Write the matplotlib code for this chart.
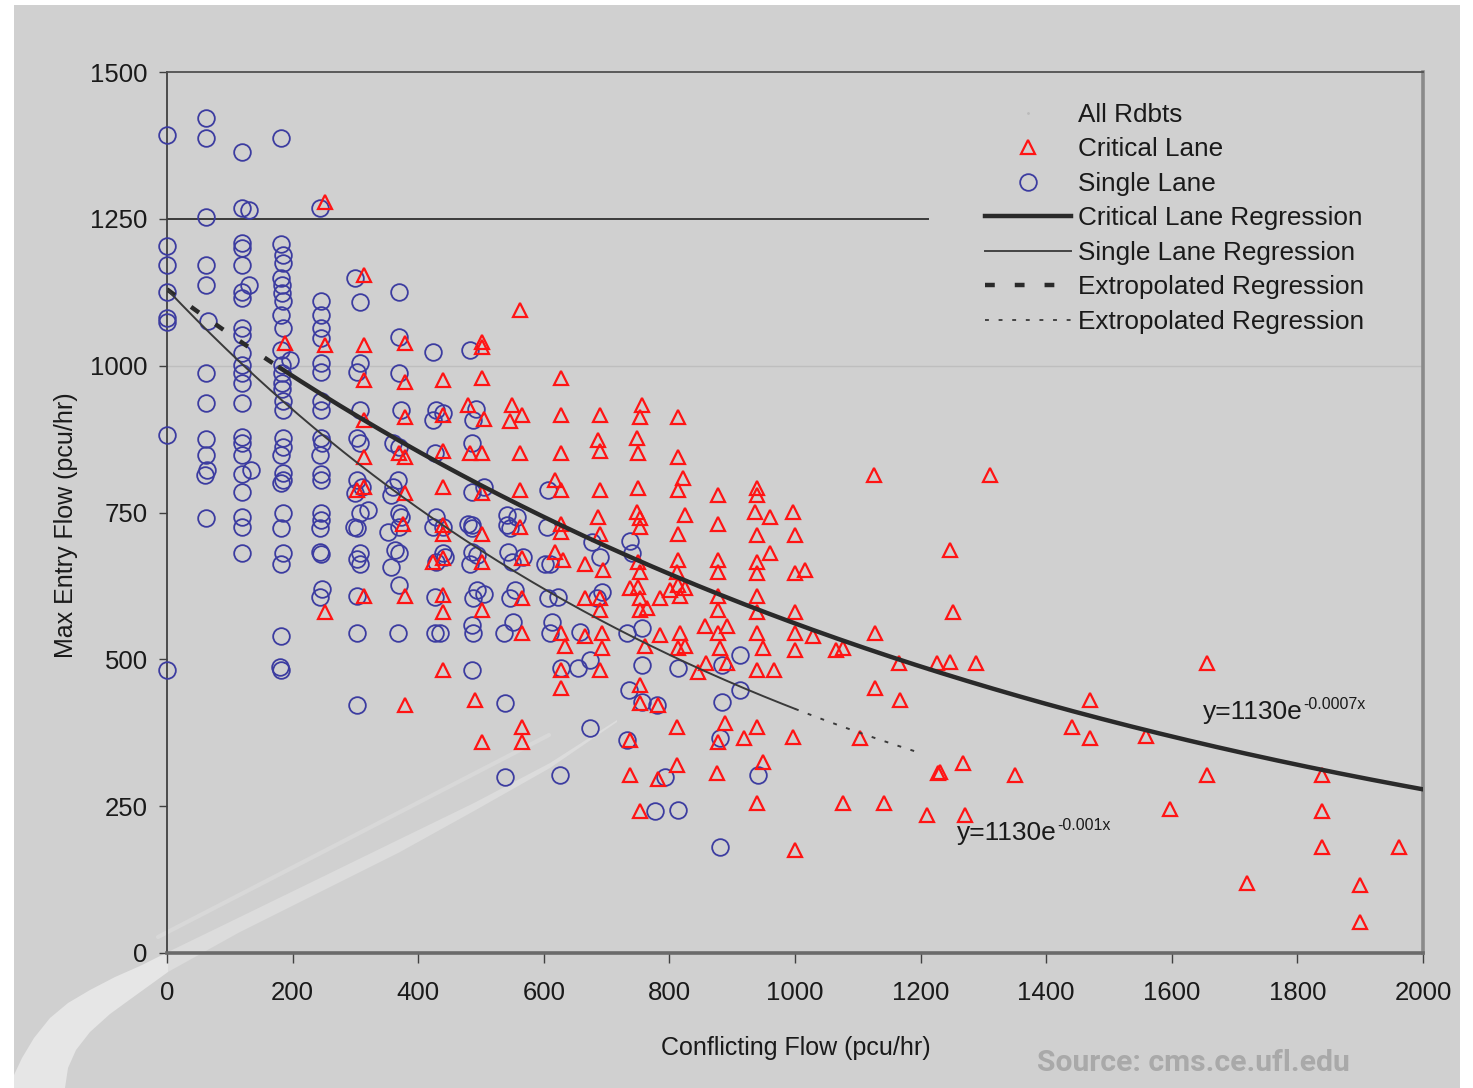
import matplotlib
matplotlib.use('Agg')
import matplotlib.pyplot as plt
import numpy as np
from matplotlib.patches import Rectangle, Polygon
from matplotlib.lines import Line2D

plt.rcParams['font.family'] = ['Liberation Sans', 'DejaVu Sans']

# ---------------- data ----------------
single_x = [0, 0, 0, 0, 0, 0, 0, 0,
            62, 62, 62, 62, 62, 65, 62, 62, 62, 62, 64, 61, 62,
            120, 120, 130, 120, 120, 120, 130, 120, 120, 120, 120, 120, 120, 120, 120, 120, 120, 120, 120, 133, 120, 120, 120, 120, 120,
            182, 182, 184, 184, 182, 183, 183, 184, 182, 184, 182, 196, 183, 183, 183, 183, 184, 184, 184, 184, 182, 184, 184, 182, 184, 182, 184, 182, 182, 180, 182,
            243, 245, 245, 245, 245, 245, 245, 245, 245, 245, 247, 243, 245, 245, 245, 245, 243, 243, 245, 247, 243,
            300, 308, 307, 302, 307, 302, 307, 302, 310, 300, 307, 320, 298, 303, 307, 303, 307, 303, 303, 303,
            369, 369, 369, 372, 360, 369, 368, 360, 357, 369, 373, 369, 352, 363, 369, 357, 369, 368,
            424, 429, 440, 424, 427, 429, 424, 440, 429, 440, 443, 426, 427, 434,
            483, 492, 488, 485, 504, 485, 480, 485, 485, 485, 493, 482, 493, 504, 488, 485, 488, 485,
            541, 557, 546, 541, 543, 549, 567, 554, 546, 536, 551, 538, 538,
            607, 605, 602, 610, 607, 623, 613, 610, 628, 626,
            676, 689, 684, 692, 658, 655, 674, 674,
            737, 740, 732, 756, 756, 735, 756, 732, 780, 793, 777,
            814, 883, 912, 883, 912, 880, 814, 941, 880]
single_y = [1392, 1204, 1171, 1126, 1082, 1074, 882, 482,
            1422, 1388, 1253, 1171, 1137, 1076, 987, 937, 875, 848, 822, 813, 740,
            1364, 1268, 1265, 1209, 1200, 1171, 1138, 1126, 1115, 1064, 1052, 1021, 1001, 987, 970, 937, 879, 868, 848, 822, 815, 785, 743, 726, 681,
            1388, 1208, 1188, 1174, 1149, 1137, 1123, 1110, 1086, 1064, 1027, 1010, 1001, 987, 970, 960, 939, 925, 876, 862, 848, 817, 805, 800, 749, 723, 681, 663, 539, 487, 482,
            1268, 1110, 1086, 1064, 1047, 1004, 990, 939, 925, 876, 868, 848, 815, 805, 749, 737, 723, 683, 679, 620, 606,
            1149, 1109, 1004, 990, 925, 876, 868, 805, 793, 783, 749, 754, 726, 723, 681, 670, 663, 607, 544, 422,
            1125, 1049, 987, 925, 868, 862, 805, 793, 780, 749, 743, 726, 717, 686, 681, 658, 626, 544,
            1024, 925, 919, 908, 851, 743, 726, 726, 666, 681, 675, 606, 545, 545,
            1026, 927, 908, 868, 794, 785, 731, 729, 723, 683, 678, 663, 618, 612, 604, 558, 544, 482,
            746, 743, 723, 729, 683, 666, 674, 618, 604, 544, 564, 425, 300,
            788, 726, 663, 663, 604, 606, 564, 544, 485, 303,
            700, 675, 604, 615, 547, 485, 499, 383,
            702, 681, 544, 553, 490, 448, 428, 363, 422, 300, 241,
            485, 490, 507, 428, 448, 366, 243, 303, 180]

critical_x = [252, 313, 188, 252, 313, 379, 313, 379, 440, 313, 379, 440, 313, 379, 369, 440,
              302, 313, 379, 440, 376, 440, 440, 424, 440, 252, 313, 379, 440, 440, 440, 379,
              562, 501, 501, 501, 628, 480, 549, 756, 504, 546, 565, 628, 689, 753, 813, 687, 748,
              482, 501, 562, 628, 689, 750, 813, 501, 562, 618, 628, 689, 750, 822, 814, 878,
              687, 748, 753, 825, 878, 628,
              501, 562, 628, 689, 753, 814, 501, 565, 618, 631, 666, 695, 750, 753, 814, 812, 878, 878,
              501, 565, 666, 689, 689, 737, 750, 753, 753, 764, 785, 801, 817, 825, 814, 878, 878,
              565, 628, 634, 666, 692, 692, 761, 785, 817, 814, 825, 857, 878, 891, 880,
              628, 689, 846, 859, 891, 628, 753, 753, 782, 490, 565, 501, 565, 737, 812, 889, 878,
              737, 782, 812, 875, 753,
              939, 939, 936, 960, 997, 939, 1000, 960, 939, 939, 1000, 1016, 939, 939, 1000,
              939, 949, 1000, 1000, 1029, 1066, 1077, 939, 966, 1125, 1311, 1247, 1252, 1127,
              1165, 1226, 1247, 1289, 1127,
              1167, 939, 918, 997, 1104, 949, 1228, 1231, 1268, 1350, 939, 1077, 1141, 1210, 1271, 1000,
              1656, 1470, 1441, 1470, 1559, 1656, 1839, 1597, 1839, 1839, 1961, 1719, 1900, 1900]
critical_y = [1279, 1154, 1038, 1036, 1036, 1038, 976, 973, 976, 908, 913, 916, 845, 845, 851, 854,
              788, 793, 783, 794, 731, 729, 714, 666, 672, 581, 607, 607, 610, 581, 482, 422,
              1095, 1041, 1032, 979, 979, 933, 933, 933, 910, 905, 916, 916, 916, 913, 913, 873, 876,
              851, 851, 851, 851, 854, 851, 845, 783, 788, 805, 788, 788, 791, 808, 788, 780,
              743, 751, 740, 746, 731, 731,
              714, 726, 717, 714, 726, 714, 666, 672, 683, 669, 663, 652, 666, 649, 669, 649, 669, 649,
              584, 604, 604, 604, 584, 621, 624, 604, 584, 587, 604, 618, 607, 621, 627, 607, 584,
              544, 544, 522, 539, 544, 519, 522, 541, 544, 519, 522, 556, 544, 556, 519,
              482, 482, 479, 493, 493, 451, 456, 425, 422, 431, 385, 360, 360, 363, 385, 391, 360,
              303, 297, 320, 306, 241,
              791, 780, 751, 743, 751, 712, 712, 681, 666, 647, 647, 652, 607, 581, 581,
              544, 519, 544, 516, 539, 516, 519, 482, 482, 814, 814, 686, 581, 544,
              493, 493, 496, 493, 451,
              431, 385, 366, 368, 366, 326, 306, 309, 323, 303, 255, 255, 255, 235, 235, 175,
              493, 431, 385, 366, 369, 303, 303, 246, 241, 181, 181, 119, 116, 53]

# regressions  y = a * exp(b x)
crit_a, crit_b = 1130, -0.0007
single_a, single_b = 1130, -0.001
crit_extrap_end = 180
single_fit_end = 1000
single_extrap_end = 1190
ref_line_y, ref_line_end = 1250, 1212
grid_y = 1000

x_ticks = [0, 200, 400, 600, 800, 1000, 1200, 1400, 1600, 1800, 2000]
y_ticks = [0, 250, 500, 750, 1000, 1250, 1500]

legend_labels = ['All Rdbts', 'Critical Lane', 'Single Lane', 'Critical Lane Regression',
                 'Single Lane Regression', 'Extropolated Regression', 'Extropolated Regression']

# ---------------- figure ----------------
W, H = 1473, 1088
fig = plt.figure(figsize=(W / 100, H / 100), dpi=100, facecolor='white')


def fx(px):
    return px / W


def fy(py):
    return 1 - py / H


BG = '#D0D0D0'
fig.patches.append(Rectangle((fx(14), 0), fx(1460) - fx(14), fy(5), transform=fig.transFigure,
                             facecolor=BG, edgecolor='none', zorder=-3))

# decorative swoosh (background ornament), lower bright part and fainter upper part
outer_lo = [(14, 1075), (22, 1058), (34, 1038), (50, 1018), (68, 1003), (90, 990), (115, 977),
            (140, 966), (168, 952)]
inner_lo = [(65, 1088), (68, 1068), (76, 1050), (90, 1032), (110, 1014), (132, 998), (150, 985),
            (168, 972)]
poly_lo = [(fx(a), fy(b)) for a, b in outer_lo] + [(fx(a), fy(b)) for a, b in inner_lo[::-1]] \
    + [(fx(14), fy(1088))]
fig.patches.append(Polygon(poly_lo, closed=True, transform=fig.transFigure,
                           facecolor='#E6E6E6', edgecolor='none', zorder=-2))
outer_hi = [(168, 952), (240, 917), (316, 880), (400, 839), (474, 803), (550, 763), (617, 720)]
inner_hi = [(168, 972), (240, 932), (316, 894), (400, 852), (474, 811), (550, 768), (617, 722)]
poly_hi = [(fx(a), fy(b)) for a, b in outer_hi] + [(fx(a), fy(b)) for a, b in inner_hi[::-1]]
fig.patches.append(Polygon(poly_hi, closed=True, transform=fig.transFigure,
                           facecolor='#DCDCDC', edgecolor='none', zorder=-2))
fig.lines.append(Line2D([fx(158), fx(549)], [fy(937), fy(735)], transform=fig.transFigure,
                        color='#D8D8D8', lw=3, zorder=-2, solid_capstyle='round'))

ax = fig.add_axes([fx(167), fy(953), fx(1423) - fx(167), fy(72) - fy(953)])
ax.patch.set_visible(False)
ax.set_xlim(0, 2000)
ax.set_ylim(0, 1500)

# reference lines
ax.axhline(grid_y, color='#BEBEBE', lw=1.0, zorder=1)
ax.plot([0, ref_line_end], [ref_line_y, ref_line_y], color='#3a3a3a', lw=1.4, zorder=1)

# scatter
CIRC = '#3C3CA0'
RED = '#FF1414'
ax.plot(single_x, single_y, ls='none', marker='o', ms=12, mfc='none', mec=CIRC, mew=1.3,
        clip_on=False, zorder=3)
ax.plot(critical_x, critical_y, ls='none', marker='^', ms=10.5, mfc='none', mec=RED, mew=1.6,
        clip_on=False, zorder=4)

# regression curves
LC = '#2a2a2a'
xc = np.linspace(crit_extrap_end, 2000, 400)
ax.plot(xc, crit_a * np.exp(crit_b * xc), color=LC, lw=3.2, zorder=5)
xce = np.linspace(0, crit_extrap_end, 50)
ax.plot(xce, crit_a * np.exp(crit_b * xce), color=LC, lw=3.2, ls=(0, (2.2, 4.5)), zorder=5)
xs = np.linspace(0, single_fit_end, 300)
ax.plot(xs, single_a * np.exp(single_b * xs), color='#3a3a3a', lw=1.4, zorder=5)
xse = np.linspace(single_fit_end, single_extrap_end, 60)
ax.plot(xse, single_a * np.exp(single_b * xse), color='#3a3a3a', lw=1.4, ls=(0, (2, 5)), zorder=5)

# axes styling
for side, col, lw in [('left', '#404040', 1.3), ('bottom', '#6a6a6a', 2.6),
                      ('top', '#505050', 1.3), ('right', '#8a8a8a', 2.6)]:
    ax.spines[side].set_color(col)
    ax.spines[side].set_linewidth(lw)
ax.set_xticks(x_ticks)
ax.set_yticks(y_ticks)
ax.tick_params(axis='x', direction='out', length=7, width=1, color='#404040', pad=13,
               labelsize=18.5, labelcolor='#1a1a1a')
ax.tick_params(axis='y', direction='out', length=6, width=1, color='#404040', pad=8,
               labelsize=18.5, labelcolor='#1a1a1a')

# axis titles
fig.text(fx(796), fy(1048), 'Conflicting Flow (pcu/hr)', ha='center', va='center',
         fontsize=18, color='#1a1a1a')
fig.text(fx(66), fy(525), 'Max Entry Flow (pcu/hr)', ha='center', va='center',
         rotation=90, fontsize=18, color='#1a1a1a')

# equations
t1 = ax.text(1650, 410, 'y=1130e', fontsize=19, va='center', ha='left', color='#1a1a1a', zorder=6)
ax.annotate('-0.0007x', xy=(1.0, 0.8), xycoords=t1, fontsize=11.5, va='center', ha='left',
            color='#1a1a1a', zorder=6)
t2 = ax.text(1258, 204, 'y=1130e', fontsize=19, va='center', ha='left', color='#1a1a1a', zorder=6)
ax.annotate('-0.001x', xy=(1.0, 0.8), xycoords=t2, fontsize=11.5, va='center', ha='left',
            color='#1a1a1a', zorder=6)

# legend
handles = [
    Line2D([], [], ls='none', marker='.', ms=2, color='#BBBBBB'),
    Line2D([], [], ls='none', marker='^', ms=10.5, mfc='none', mec=RED, mew=1.6),
    Line2D([], [], ls='none', marker='o', ms=12, mfc='none', mec=CIRC, mew=1.3),
    Line2D([], [], color=LC, lw=3.2),
    Line2D([], [], color='#444444', lw=1.4),
    Line2D([], [], color=LC, lw=3.2, ls=(0, (2.2, 4.5))),
    Line2D([], [], color='#444444', lw=1.4, ls=(0, (2, 5))),
]
leg = ax.legend(handles, legend_labels, loc='upper left', bbox_to_anchor=(fx(985), fy(103)),
                bbox_transform=fig.transFigure, frameon=False, fontsize=18.8, handlelength=3.3,
                handletextpad=0.25, labelspacing=0.40, borderpad=0, borderaxespad=0, numpoints=1)
for t in leg.get_texts():
    t.set_color('#1a1a1a')

# source note
src = fig.text(fx(1037), fy(1063), 'Source: cms.ce.ufl.edu', ha='left', va='center',
               fontsize=25, fontweight='bold', color='#A9A9A9',
               family=['Liberation Sans Narrow', 'Roboto', 'DejaVu Sans'])
fig.canvas.draw()
bb = src.get_window_extent()
if bb.width > 0:
    target = 313.0
    src.set_fontsize(25 * min(1.0, target / bb.width))

fig.savefig('out.png', dpi=100, facecolor='white')
